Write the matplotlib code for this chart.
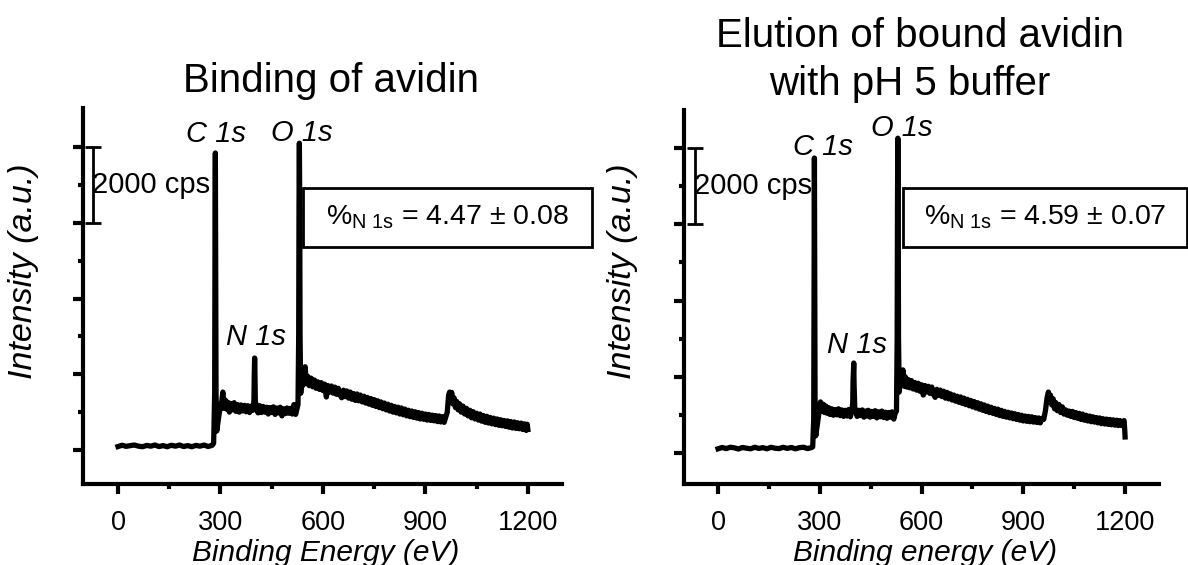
import matplotlib
matplotlib.use("Agg")
import matplotlib.pyplot as plt
from matplotlib.patches import Rectangle

plt.rcParams['font.family'] = ['Liberation Sans', 'DejaVu Sans']
plt.rcParams['mathtext.fontset'] = 'custom'
plt.rcParams['mathtext.rm'] = 'Liberation Sans'
plt.rcParams['mathtext.it'] = 'Liberation Sans:italic'

# ---------------- data ----------------
title_lines = [["Binding of avidin"], ["Elution of bound avidin", "with pH 5 buffer"]]
xlabels = ["Binding Energy (eV)", "Binding energy (eV)"]
ylabel = "Intensity (a.u.)"
xticks = [0, 300, 600, 900, 1200]
boxtexts = [r"$\mathregular{\%_{N\ 1s}}$ = 4.47 ± 0.08",
            r"$\mathregular{\%_{N\ 1s}}$ = 4.59 ± 0.07"]
peak_names = ["C 1s", "O 1s", "N 1s"]
scale_cps = 2000

energy_bind = [0, 12, 24, 36, 48, 60, 72, 84, 96, 108, 120, 132, 144, 156, 168, 180, 192, 204, 216, 228, 240, 252, 264, 276,
               280, 283, 284, 285, 286, 287, 289, 292, 296, 300, 304, 307, 310, 314, 318, 322, 326, 330, 335, 340, 345, 350,
               355, 360, 365, 370, 375, 380, 385, 390, 395, 398, 399, 400, 401, 402, 405, 410, 415, 420, 425, 430, 435, 440,
               445, 450, 455, 460, 465, 470, 475, 480, 485, 490, 495, 500, 505, 510, 515, 520, 524, 527, 529, 530, 531, 532,
               533, 535, 538, 541, 545, 548, 551, 555, 560, 565, 570, 575, 580, 585, 590, 595, 600, 605, 610, 615, 620, 625,
               630, 635, 640, 645, 650, 655, 660, 665, 670, 675, 680, 685, 690, 695, 700, 705, 710, 715, 720, 725, 730, 735,
               740, 745, 750, 755, 760, 765, 770, 775, 780, 785, 790, 795, 800, 805, 810, 815, 820, 825, 830, 835, 840, 845,
               850, 855, 860, 865, 870, 875, 880, 885, 890, 895, 900, 905, 910, 915, 920, 925, 930, 935, 940, 945, 950, 955,
               960, 964, 968, 971, 974, 977, 980, 984, 988, 992, 996, 1000, 1005, 1010, 1015, 1020, 1025, 1030, 1035, 1040,
               1045, 1050, 1055, 1060, 1065, 1070, 1075, 1080, 1085, 1090, 1095, 1100, 1105, 1110, 1115, 1120, 1125, 1130,
               1135, 1140, 1145, 1150, 1155, 1160, 1165, 1170, 1175, 1180, 1185, 1190, 1195, 1198, 1200]
counts_bind = [90, 125, 95, 115, 130, 100, 85, 120, 100, 130, 90, 115, 85, 125, 100, 130, 90, 115, 85, 120, 100, 130, 90, 125,
               180, 1500, 5500, 7850, 5000, 1500, 500, 700, 950, 1150, 1300, 1530, 1100, 1320, 1080, 1260, 1000, 1230, 1060, 1250, 1020, 1200,
               1000, 1190, 1030, 1180, 1010, 1170, 990, 1160, 1050, 1300, 2000, 2430, 2000, 1300, 1120, 980, 1170, 990, 1150, 1000, 1130, 950,
               1120, 990, 1140, 940, 1110, 980, 1130, 900, 1090, 960, 1110, 970, 1100, 950, 1200, 940, 1090, 1200, 3000, 6500, 8110, 6500,
               3000, 1500, 1900, 1700, 2050, 2200, 1750, 1950, 1700, 1900, 1670, 1850, 1630, 1800, 1600, 1780, 1570, 1740, 1400, 1700, 1530, 1690,
               1500, 1660, 1470, 1630, 1450, 1380, 1580, 1410, 1560, 1370, 1530, 1340, 1490, 1310, 1480, 1300, 1450, 1270, 1420, 1240, 1390, 1210,
               1360, 1180, 1330, 1150, 1300, 1120, 1270, 1090, 1240, 1060, 1210, 1030, 1180, 1000, 1150, 980, 1130, 950, 1110, 930, 1080, 900,
               1050, 880, 1030, 860, 1010, 840, 990, 820, 970, 810, 950, 790, 940, 780, 920, 770, 910, 750, 900, 740, 880, 730,
               880, 1000, 1450, 1530, 1280, 1520, 1220, 1380, 1120, 1280, 1060, 1220, 1000, 1160, 950, 1100, 900, 1050, 850, 1010,
               820, 970, 790, 950, 760, 910, 730, 890, 710, 860, 690, 840, 670, 820, 650, 800, 640, 780,
               620, 770, 600, 750, 580, 740, 570, 720, 560, 710, 540, 690, 520, 680, 540]

energy_elut = [0, 12, 24, 36, 48, 60, 72, 84, 96, 108, 120, 132, 144, 156, 168, 180, 192, 204, 216, 228, 240, 252, 264, 276,
               279, 282, 283, 284, 285, 286, 288, 291, 295, 299, 302, 306, 310, 314, 318, 322, 326, 330, 335, 340, 345, 350,
               355, 360, 365, 370, 375, 380, 385, 390, 394, 397, 398, 400, 401, 403, 406, 410, 415, 420, 425, 430, 435, 440,
               443, 448, 453, 458, 463, 468, 473, 478, 483, 488, 493, 498, 503, 508, 513, 518, 522, 526, 528, 529, 530, 531,
               532, 534, 537, 541, 545, 549, 552, 556, 560, 565, 570, 575, 580, 585, 590, 595, 600, 605, 610, 615, 620, 625,
               630, 635, 640, 645, 650, 655, 660, 665, 670, 675, 680, 685, 690, 695, 700, 705, 710, 715, 720, 725, 730, 735,
               740, 745, 750, 755, 760, 765, 770, 775, 780, 785, 790, 795, 800, 805, 810, 815, 820, 825, 830, 835, 840, 845,
               850, 855, 860, 865, 870, 875, 880, 885, 890, 895, 900, 905, 910, 915, 920, 925, 930, 935, 940, 945, 950, 955,
               960, 965, 970, 974, 977, 980, 984, 988, 992, 996, 1000, 1005, 1010, 1015, 1020, 1025, 1030, 1035, 1040, 1045,
               1050, 1055, 1060, 1065, 1070, 1075, 1080, 1085, 1090, 1095, 1100, 1105, 1110, 1115, 1120, 1125, 1130,
               1135, 1140, 1145, 1150, 1155, 1160, 1165, 1170, 1175, 1180, 1185, 1190, 1194, 1197, 1199, 1200]
counts_elut = [110, 145, 115, 150, 135, 105, 145, 125, 110, 150, 120, 140, 110, 150, 125, 115, 150, 120, 145, 110, 140, 150, 115, 145,
               160, 900, 4000, 7740, 4500, 1200, 450, 650, 900, 1150, 1340, 1100, 1280, 1060, 1230, 1040, 1190, 1010, 1160, 990, 1140, 1000,
               1160, 980, 1130, 960, 1120, 970, 1140, 950, 1100, 1300, 1900, 2360, 1800, 1200, 1080, 960, 1120, 980, 1130, 940, 1100, 970,
               1120, 940, 1090, 960, 1110, 920, 1080, 950, 1100, 930, 1070, 910, 1060, 940, 1080, 890, 1040, 1100, 3000, 6500, 8260, 6500,
               3000, 1600, 1850, 1900, 2180, 1750, 2000, 1730, 1930, 1710, 1900, 1680, 1850, 1650, 1830, 1620, 1790, 1520, 1770, 1600, 1750, 1560,
               1730, 1540, 1460, 1670, 1510, 1650, 1480, 1620, 1440, 1590, 1420, 1550, 1390, 1520, 1360, 1490, 1330, 1470, 1300, 1440, 1270, 1410,
               1240, 1380, 1210, 1350, 1180, 1320, 1150, 1290, 1120, 1260, 1090, 1230, 1060, 1200, 1040, 1170, 1010, 1150, 980, 1120, 960, 1090,
               940, 1070, 920, 1050, 900, 1030, 880, 1010, 860, 990, 840, 970, 830, 960, 820, 950, 810, 930, 800, 920, 790, 910,
               880, 1100, 1450, 1600, 1330, 1520, 1260, 1420, 1160, 1320, 1110, 1270, 1060, 1210, 1020, 1130, 990, 1100, 960, 1090,
               930, 1060, 910, 1040, 880, 1020, 860, 990, 840, 970, 820, 950, 810, 930, 790, 920, 770,
               900, 760, 890, 750, 880, 740, 870, 730, 860, 720, 850, 720, 800, 850, 600, 420]

energies = [energy_bind, energy_elut]
counts = [counts_bind, counts_elut]

# ---------------- layout ----------------
W, H = 1188, 565
fig = plt.figure(figsize=(W / 100, H / 100), dpi=100)

# axes placement in pixels (left, top, right, bottom)
axes_px = [(82.5, 108, 562, 484), (684.5, 110, 1159, 484)]
xlims = [(-104, 1300), (-99, 1300)]
ylims = [(-900, 9040), (-814, 9000)]
peak_pos = [[(287, 8350), (538, 8370), (404, 2985)],
            [(310, 8030), (543, 8530), (410, 2835)]]
scale_x = [-73, -68]
box_px = [(303, 188, 592, 247), (903, 188, 1187, 247)]
title_px = [[(330.5, 92)], [(920.5, 47), (910, 95)]]
xlabel_cx = [326, 925]
ylabel_cx = [24, 623]

for i in range(2):
    l, t, r, b = axes_px[i]
    ax = fig.add_axes([l / W, 1 - b / H, (r - l) / W, (b - t) / H])
    ax.plot(energies[i], counts[i], color='black', lw=3.8, solid_joinstyle='round')
    ax.set_xlim(*xlims[i])
    ax.set_ylim(*ylims[i])
    for s in ['top', 'right']:
        ax.spines[s].set_visible(False)
    for s in ['left', 'bottom']:
        ax.spines[s].set_linewidth(3)
    ax.set_xticks(xticks)
    ax.set_xticks([150, 450, 750, 1050], minor=True)
    ax.set_yticks([0, 2000, 4000, 6000, 8000])
    ax.set_yticks([1000, 3000, 5000, 7000], minor=True)
    ax.set_yticklabels([])
    ax.tick_params(which='major', direction='out', length=7, width=3, labelsize=19.5, pad=12)
    ax.tick_params(which='minor', direction='out', length=3.5, width=3)
    ax.set_xlabel(xlabels[i], fontsize=21.5, style='italic')
    ax.xaxis.set_label_coords((xlabel_cx[i] - l) / (r - l), (b - 539) / (b - t))
    ax.set_ylabel(ylabel, fontsize=24.5, style='italic')
    ax.yaxis.set_label_coords((ylabel_cx[i] - l) / (r - l), (b - 271) / (b - t))
    ax.yaxis.label.set_verticalalignment('center')

    for (tx, ty), line in zip(title_px[i], title_lines[i]):
        fig.text(tx / W, 1 - ty / H, line, fontsize=29, ha='center', va='baseline')

    for name, (px, py) in zip(peak_names, peak_pos[i]):
        ax.text(px, py, name, fontsize=21, style='italic', ha='center', va='center')

    # 2000 cps scale bar
    ax.errorbar([scale_x[i]], [7000], yerr=[scale_cps / 2], color='black', lw=2,
                capsize=5.5, capthick=2, clip_on=False)
    ax.text(scale_x[i] - 2, 7000, "2000 cps", fontsize=21, ha='left', va='center')

    # result box
    bl, bt, br, bb = box_px[i]
    fig.patches.append(Rectangle((bl / W, 1 - bb / H), (br - bl) / W, (bb - bt) / H,
                                 transform=fig.transFigure, fill=False, lw=2, ec='black'))
    fig.text((bl + br) / 2 / W, 1 - (bt + bb) / 2 / H, boxtexts[i], fontsize=20.5,
             ha='center', va='center')

fig.savefig("out.png", dpi=100)
